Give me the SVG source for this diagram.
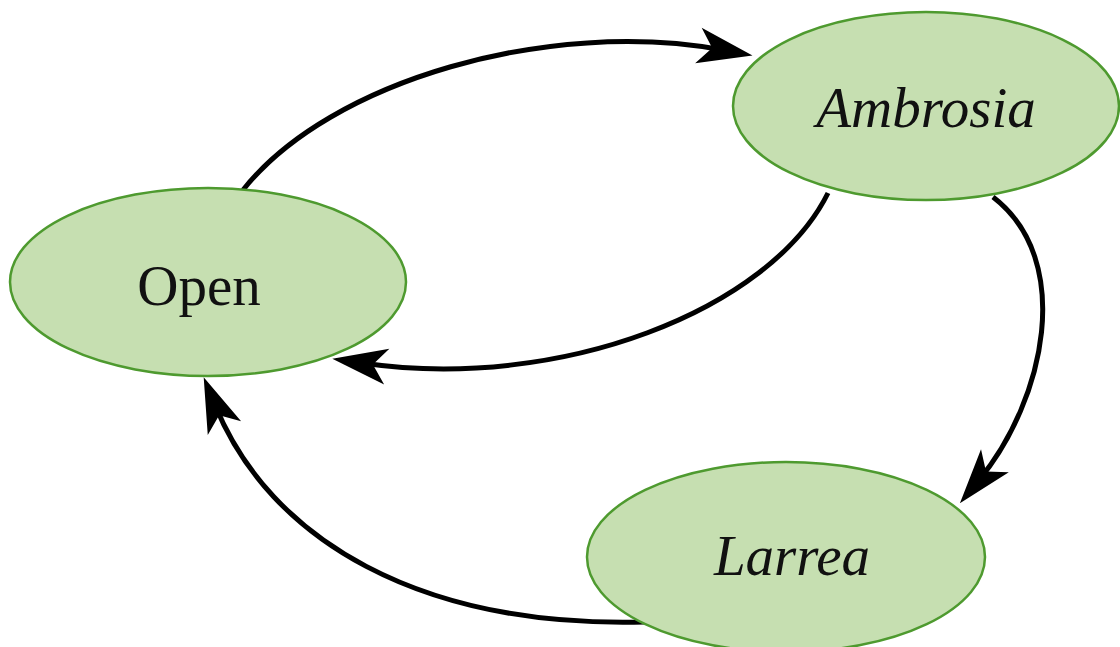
<svg xmlns="http://www.w3.org/2000/svg" width="1120" height="647" viewBox="0 0 1120 647">
<defs>
<style>
.node{fill:#c6dfb1;stroke:#4e9a2f;stroke-width:2.5}
.edge{fill:none;stroke:#000;stroke-width:5}
.lbl{font-family:"Liberation Serif",serif;font-size:57px;fill:#111;text-anchor:middle}
.it{font-style:italic}
</style>
<marker id="ah" markerUnits="userSpaceOnUse" markerWidth="80" markerHeight="50" viewBox="-70 -25 80 50" refX="-30" refY="0" orient="auto" overflow="visible">
<path d="M0,0 L-55,-18 L-41,0 L-55,18 Z" fill="#000"/>
</marker>
</defs>
<rect width="1120" height="647" fill="#fff"/>
<g id="connectors">
<path class="edge" d="M243,190 C330,80 550,18 723,50" marker-end="url(#ah)"/>
<path class="edge" d="M828,193 C770,310 560,392 362,363" marker-end="url(#ah)"/>
<path class="edge" d="M993,197 C1075,260 1045,400 979,480" marker-end="url(#ah)"/>
<path class="edge" d="M645,622 C420,628 270,540 215,405" marker-end="url(#ah)"/>
</g>
<g id="node-open">
<ellipse class="node" cx="208" cy="282" rx="198" ry="94"/>
<text class="lbl" x="199" y="305">Open</text>
</g>
<g id="node-ambrosia">
<ellipse class="node" cx="926" cy="106" rx="193" ry="94"/>
<text class="lbl it" x="926" y="127">Ambrosia</text>
</g>
<g id="node-larrea">
<ellipse class="node" cx="786" cy="557" rx="199" ry="95"/>
<text class="lbl it" x="792" y="575">Larrea</text>
</g>
</svg>
